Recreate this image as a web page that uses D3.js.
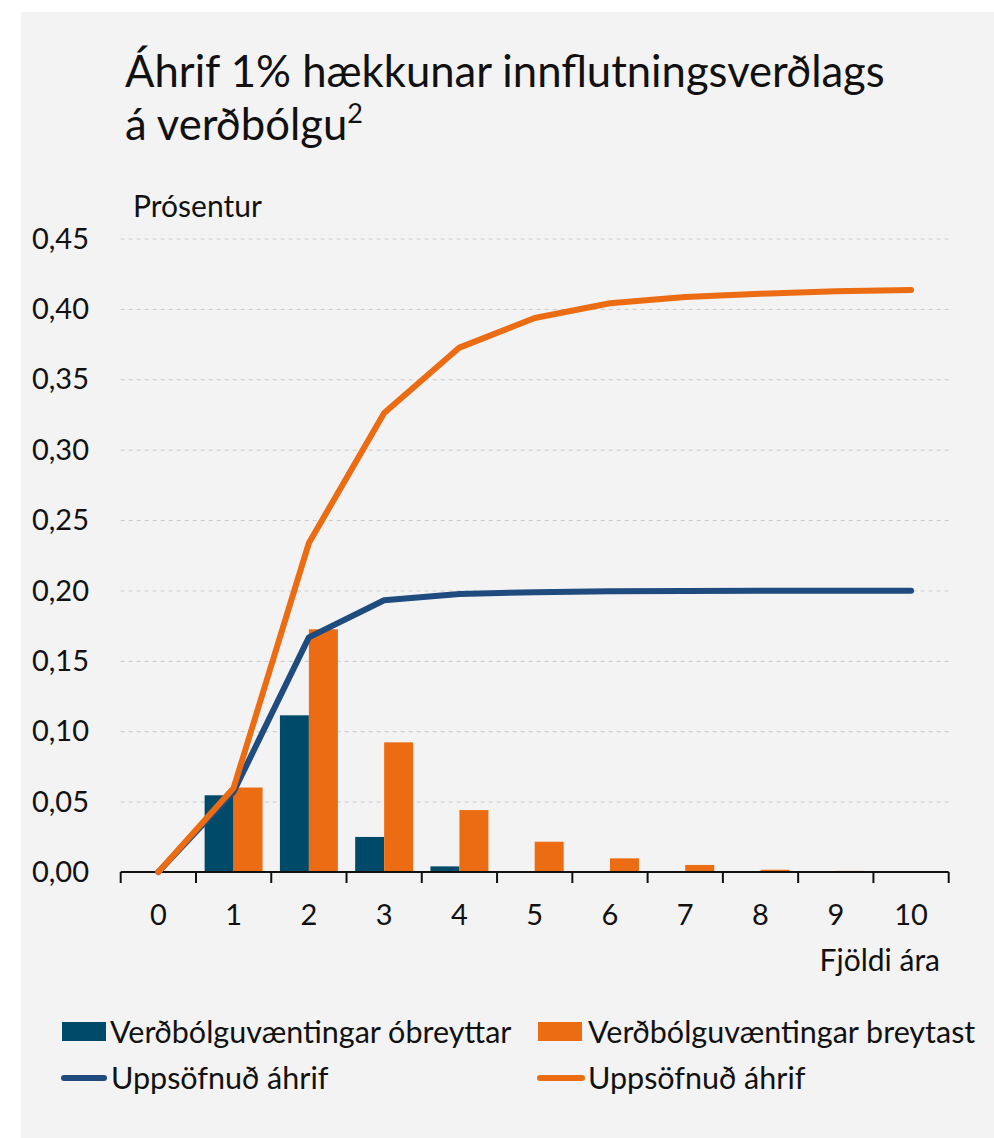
<!DOCTYPE html>
<html>
<head>
<meta charset="utf-8">
<script src="https://cdn.jsdelivr.net/npm/d3@7"></script>
<style>
  body { margin: 0; background: #ffffff; }
  svg text { font-family: Lato, "Open Sans", sans-serif; fill: #111; }
  .grid line { stroke: #c9c9c9; stroke-dasharray: 4,4; stroke-width: 1; }
  .grid path { stroke: none; }
</style>
</head>
<body>
<svg id="chart"></svg>
<script>
// data
var years = ["0","1","2","3","4","5","6","7","8","9","10"];
var barsUnchanged = [0, 0.0545, 0.1113, 0.0249, 0.0040, 0, 0, 0, 0, 0, 0];
var barsChanged   = [0, 0.0600, 0.1724, 0.0921, 0.0440, 0.0215, 0.0097, 0.0050, 0.0016, 0.0008, 0.0003];
var cumUnchanged  = [0, 0.0570, 0.1667, 0.1930, 0.1975, 0.1988, 0.1994, 0.1996, 0.1997, 0.1997, 0.1997];
var cumChanged    = [0, 0.0597, 0.2337, 0.3260, 0.3725, 0.3935, 0.4040, 0.4085, 0.4108, 0.4125, 0.4135];
var yTicks = [0, 0.05, 0.10, 0.15, 0.20, 0.25, 0.30, 0.35, 0.40, 0.45];
var legendLabels = ["Verðbólguvæntingar óbreyttar", "Verðbólguvæntingar breytast",
                    "Uppsöfnuð áhrif", "Uppsöfnuð áhrif"];

var darkBlue = "#004a69", orange = "#ec6c13", lineBlue = "#1f4b7f";

function drawChart(el) {
  var W = 994, H = 1138;
  var left = 120.7, right = 948.7, top = 238.5, bottom = 872;

  var svg = d3.select(el).attr("width", W).attr("height", H);

  // grey panel
  svg.append("rect").attr("x", 21).attr("y", 12)
     .attr("width", W - 21).attr("height", H - 12).attr("fill", "#f3f3f3");

  var x = d3.scaleBand().domain(years).range([left, right])
      .paddingInner(0.23).paddingOuter(0.115);
  var x1 = d3.scaleBand().domain(["a", "b"]).range([0, x.bandwidth()]);
  var y = d3.scaleLinear().domain([0, 0.45]).range([bottom, top]);

  var fmt = function(d) { return d3.format(".2f")(d).replace(".", ","); };

  // gridlines
  svg.append("g").attr("class", "grid")
     .attr("transform", "translate(" + left + ",0)")
     .call(d3.axisLeft(y).tickValues(yTicks.slice(1))
        .tickSize(-(right - left)).tickFormat(""));

  // y labels
  svg.append("g").selectAll("text").data(yTicks).enter().append("text")
     .attr("x", 89).attr("y", function(d) { return y(d); })
     .attr("dy", "0.35em").attr("text-anchor", "end")
     .style("font-size", "29px").text(fmt);

  // bars
  var groups = svg.append("g").selectAll("g").data(years).enter().append("g")
     .attr("transform", function(d) { return "translate(" + x(d) + ",0)"; });
  groups.append("rect")
     .attr("x", x1("a")).attr("width", x1.bandwidth())
     .attr("y", function(d, i) { return y(barsUnchanged[i]); })
     .attr("height", function(d, i) { return bottom - y(barsUnchanged[i]); })
     .attr("fill", darkBlue);
  groups.append("rect")
     .attr("x", x1("b")).attr("width", x1.bandwidth())
     .attr("y", function(d, i) { return y(barsChanged[i]); })
     .attr("height", function(d, i) { return bottom - y(barsChanged[i]); })
     .attr("fill", orange);

  // x axis line + ticks between categories
  var step = x.step();
  var bounds = years.map(function(d) { return x(d) - step * 0.115; }).concat([right]);
  svg.append("line").attr("x1", left).attr("x2", right)
     .attr("y1", bottom).attr("y2", bottom)
     .attr("stroke", "#111").attr("stroke-width", 2);
  svg.append("g").selectAll("line").data(bounds).enter().append("line")
     .attr("x1", function(d) { return d; }).attr("x2", function(d) { return d; })
     .attr("y1", bottom).attr("y2", bottom + 11)
     .attr("stroke", "#111").attr("stroke-width", 2);
  svg.append("g").selectAll("text").data(years).enter().append("text")
     .attr("x", function(d) { return x(d) + x.bandwidth() / 2; })
     .attr("y", 925).attr("text-anchor", "middle")
     .style("font-size", "29px").text(function(d) { return d; });

  // cumulative lines
  var line = function(vals) {
    return d3.line()
      .x(function(d, i) { return x(years[i]) + x.bandwidth() / 2; })
      .y(function(d) { return y(d); })(vals);
  };
  svg.append("path").attr("d", line(cumUnchanged)).attr("fill", "none")
     .attr("stroke", lineBlue).attr("stroke-width", 6)
     .attr("stroke-linecap", "round").attr("stroke-linejoin", "round");
  svg.append("path").attr("d", line(cumChanged)).attr("fill", "none")
     .attr("stroke", orange).attr("stroke-width", 6)
     .attr("stroke-linecap", "round").attr("stroke-linejoin", "round");

  // axis titles
  svg.append("text").attr("x", 133).attr("y", 217)
     .style("font-size", "30px").text("Prósentur");
  svg.append("text").attr("x", 940).attr("y", 971).attr("text-anchor", "end")
     .style("font-size", "30px").text("Fjöldi ára");

  // title
  var t1 = svg.append("text").attr("x", 125).attr("y", 87)
     .style("font-size", "44px").text("Áhrif 1% hækkunar innflutningsverðlags");
  var fs = 44 * 760 / t1.node().getComputedTextLength();
  t1.style("font-size", fs + "px");
  var t2 = svg.append("text").attr("x", 125).attr("y", 140).style("font-size", fs + "px");
  t2.append("tspan").text("á verðbólgu");
  t2.append("tspan").attr("dy", -17).style("font-size", (fs * 0.62) + "px").text("2");

  // legend
  var lg = svg.append("g");
  lg.append("rect").attr("x", 62).attr("y", 1022).attr("width", 44).attr("height", 19).attr("fill", darkBlue);
  lg.append("rect").attr("x", 538).attr("y", 1022).attr("width", 44).attr("height", 19).attr("fill", orange);
  lg.append("line").attr("x1", 64).attr("x2", 104).attr("y1", 1078).attr("y2", 1078)
     .attr("stroke", lineBlue).attr("stroke-width", 6).attr("stroke-linecap", "round");
  lg.append("line").attr("x1", 540).attr("x2", 582).attr("y1", 1078).attr("y2", 1078)
     .attr("stroke", orange).attr("stroke-width", 6).attr("stroke-linecap", "round");
  var lx = [110, 588, 111, 588], ly = [1032, 1032, 1078, 1078];
  lg.selectAll("text").data(legendLabels).enter().append("text")
     .attr("x", function(d, i) { return lx[i]; })
     .attr("y", function(d, i) { return ly[i]; })
     .attr("dy", "0.35em").style("font-size", "30.5px")
     .text(function(d) { return d; });
}

drawChart(document.querySelector("#chart"));
</script>
</body>
</html>
